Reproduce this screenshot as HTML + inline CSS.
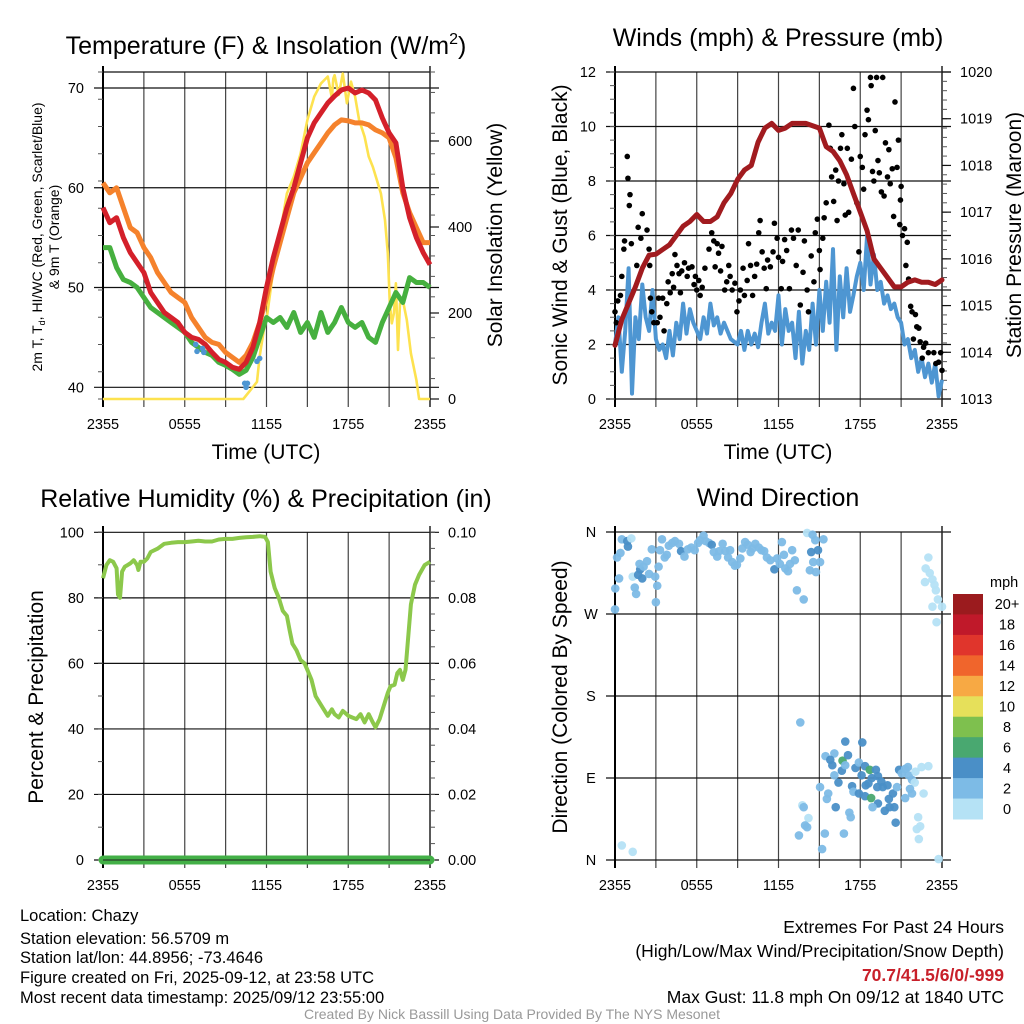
<!DOCTYPE html>
<html><head><meta charset="utf-8"><title>Chazy Mesonet</title>
<style>
html,body{margin:0;padding:0;background:#fff;}
svg{display:block;font-family:"Liberation Sans",Arial,sans-serif;}
</style></head>
<body>
<svg id="chart" width="1024" height="1024" viewBox="0 0 1024 1024" xmlns="http://www.w3.org/2000/svg">
<rect width="1024" height="1024" fill="#fff"/>
<g id="g1"></g>
<g id="g2"></g>
<g id="g3"></g>
<g id="g4"></g>
<g font-size="25" text-anchor="middle">
<text x="266" y="54">Temperature (F) &amp; Insolation (W/m<tspan dy="-10" font-size="16">2</tspan><tspan dy="10">)</tspan></text>
<text x="778" y="46">Winds (mph) &amp; Pressure (mb)</text>
<text x="266" y="507">Relative Humidity (%) &amp; Precipitation (in)</text>
<text x="778" y="506">Wind Direction</text>
</g>
<g font-size="21" text-anchor="middle">
<text x="266" y="459">Time (UTC)</text>
<text x="778" y="459">Time (UTC)</text>
<text transform="translate(502,235) rotate(-90)">Solar Insolation (Yellow)</text>
<text transform="translate(567,235) rotate(-90)">Sonic Wind &amp; Gust (Blue, Black)</text>
<text transform="translate(1021,235) rotate(-90)">Station Pressure (Maroon)</text>
<text transform="translate(43,697) rotate(-90)">Percent &amp; Precipitation</text>
<text transform="translate(567,697) rotate(-90)">Direction (Colored By Speed)</text>
</g>
<g font-size="14" text-anchor="middle">
<text transform="translate(42,237) rotate(-90)">2m T, T<tspan font-size="9" dy="3">d</tspan><tspan dy="-3">, HI/WC (Red, Green, Scarlet/Blue)</tspan></text>
<text transform="translate(59,237) rotate(-90)">&amp; 9m T (Orange)</text>
</g>
<g id="cbar"></g>
<g font-size="16.5">
<text x="20" y="921">Location: Chazy</text>
<text x="20" y="944">Station elevation: 56.5709 m</text>
<text x="20" y="963">Station lat/lon: 44.8956; -73.4646</text>
<text x="20" y="983">Figure created on Fri, 2025-09-12, at 23:58 UTC</text>
<text x="20" y="1003">Most recent data timestamp: 2025/09/12 23:55:00</text>
</g>
<g font-size="17.5" text-anchor="end">
<text x="1004" y="933">Extremes For Past 24 Hours</text>
<text x="1004" y="957">(High/Low/Max Wind/Precipitation/Snow Depth)</text>
<text x="1004" y="981" fill="#c8202a" font-weight="bold">70.7/41.5/6/0/-999</text>
<text x="1004" y="1003">Max Gust: 11.8 mph On 09/12 at 1840 UTC</text>
</g>
<text x="512" y="1019" font-size="14" fill="#999" text-anchor="middle">Created By Nick Bassill Using Data Provided By The NYS Mesonet</text>
</svg>
<script>
// ---------- data ----------
const xTickLabels = ["2355","0555","1155","1755","2355"];
const tempTicks = [40,50,60,70];
const solarTicks = [0,200,400,600];
const windTicks = [0,2,4,6,8,10,12];
const presTicks = [1013,1014,1015,1016,1017,1018,1019,1020];
const rhTicks = [0,20,40,60,80,100];
const precipTickLabels = ["0.00","0.02","0.04","0.06","0.08","0.10"];
const dirTickLabels = ["N","W","S","E","N"];
const cbarLabels = ["20+","18","16","14","12","10","8","6","4","2","0"];

const tHours = [0,0.5,1,1.5,2,2.5,3,3.5,4,4.5,5,5.5,6,6.5,7,7.5,8,8.5,9,9.5,10,10.5,11,11.5,12,12.5,13,13.5,14,14.5,15,15.5,16,16.5,17,17.5,18,18.5,19,19.5,20,20.5,21,21.5,22,22.5,23,23.5,24];
const temp9m = [60.5,59.5,60,58,56,55.5,54,53,51.5,50.5,49.5,49,48.5,47,46,45,44.5,44.3,43.5,43,42.5,43.2,44.5,46.5,49,52,54.5,57,59.5,61,62.5,63.5,64.5,65.5,66.3,66.8,66.7,66.5,66.5,66.3,65.8,65.5,65,63,59.5,57.5,56,54.5,54.5];
const temp2m = [58,56.5,57,55,53.5,52.5,51.5,49.5,48.5,47.5,47,46.5,45.5,45,44.8,44.3,43.5,42.8,42.5,42,41.8,42.5,44,46.5,50,53,55.5,58,60,62.5,65,66.5,67.5,68.5,69.2,69.8,70,69.5,69.8,69.5,68.8,67,65.5,64.5,60,57,55,53.5,52.3];
const dewpt = [54,54,52,50.8,50.5,50,49,48,47.5,47,46.5,46,45.5,44.5,44,43.5,43.2,42.5,42.2,41.8,41.3,41.7,43,45,47,46.5,47,46,47.5,45.5,46.5,45,47.5,45.5,46.5,48,46.5,46,46.5,45,44.5,46.5,48,49.5,48.5,51,50.5,50.5,50];
const wcHours = [6.8,6.9,7.3,7.4,10.4,10.5,10.6,11.3,11.5];
const wcTemps = [44.3,43.6,43.9,43.5,40.4,40,40.4,42.6,42.9];
const solarHours = [0,10.3,10.8,11.3,11.5,11.8,12,12.5,13,13.5,14,14.5,15,15.5,16,16.5,16.8,16.9,17,17.3,17.6,17.9,18.2,18.5,18.8,19.2,19.5,19.8,20.1,20.4,20.7,20.9,21.05,21.2,21.35,21.5,21.65,21.8,22,22.3,22.6,23,23.2,24];
const solar = [0,0,20,40,100,160,184,300,385,478,517,571,649,703,734,750,700,745,753,707,757,688,738,703,649,610,564,540,509,478,416,339,222,176,199,269,114,222,230,184,106,44,0,0];

const wHours = [0,0.25,0.5,0.75,1,1.25,1.5,1.75,2,2.25,2.5,2.75,3,3.25,3.5,3.75,4,4.25,4.5,4.75,5,5.25,5.5,5.75,6,6.25,6.5,6.75,7,7.25,7.5,7.75,8,8.5,9,9.25,9.5,9.75,10,10.25,10.5,10.75,11,11.25,11.5,11.75,12,12.25,12.5,12.75,13,13.25,13.5,13.75,14,14.25,14.5,14.75,15,15.25,15.5,15.75,16,16.25,16.5,16.75,17,17.25,17.5,17.75,18,18.25,18.5,18.75,19,19.25,19.5,19.75,20,20.25,20.5,20.75,21,21.25,21.5,21.75,22,22.25,22.5,22.75,23,23.25,23.5,23.75,24];
const wind = [2,3,1,2.5,4.8,0.2,3,2.2,4.2,3,2.5,4,2.2,1.8,2,1.5,2.5,1.6,2.8,2.2,3.5,2.4,3.3,2.8,2.5,2.2,3,2.4,3.5,2.7,3,2.4,2.8,2.2,2,2.5,1.8,2.5,2,2.4,1.9,2.8,3.5,2.4,2.8,2.5,3.8,2,3.3,2.5,2.8,1.5,3.2,1.3,2.5,1.8,3.5,2,4,2.5,4.3,2.8,5.5,1.8,4.5,3,4.8,3.2,3.8,4.5,5,4,6,4.2,5.3,4,4.3,3.5,3.8,3.3,3.5,3,2.8,2,2.2,1.5,1.8,1,1.5,0.8,1.3,0.6,1.3,0.1,0.7];
const pHours = [0,0.5,1,1.5,2,2.5,3,3.5,4,4.5,5,5.5,6,6.5,7,7.5,8,8.5,9,9.5,10,10.5,11,11.5,12,12.5,13,13.5,14,14.5,15,15.5,16,16.5,17,17.5,18,18.5,19,19.5,20,20.5,21,21.5,22,22.5,23,23.5,24];
const pressure = [1014.15,1014.7,1015.05,1015.4,1015.8,1016.08,1016.1,1016.2,1016.3,1016.5,1016.7,1016.8,1016.95,1016.8,1016.8,1016.9,1017.2,1017.4,1017.7,1017.9,1018.0,1018.5,1018.8,1018.9,1018.75,1018.8,1018.9,1018.9,1018.9,1018.85,1018.8,1018.4,1018.3,1018.1,1017.8,1017.4,1017.0,1016.6,1016.0,1015.8,1015.6,1015.4,1015.4,1015.5,1015.55,1015.5,1015.5,1015.45,1015.55];
const gustHours = [0,0.1,0.2,0.4,0.5,0.65,0.7,0.9,0.95,1.05,1.1,1.2,1.6,1.7,1.9,2.0,2.35,2.5,2.55,2.6,2.7,2.85,3.1,3.2,3.3,3.5,3.6,3.8,3.9,4.05,4.2,4.3,4.4,4.55,4.7,4.8,4.9,5.1,5.3,5.4,5.65,5.8,5.9,6.0,6.15,6.25,6.4,6.6,6.9,7.1,7.25,7.35,7.5,7.6,7.75,7.85,8.05,8.2,8.35,8.45,8.6,8.8,8.95,9.1,9.2,9.4,9.5,9.7,9.8,9.95,10.1,10.25,10.4,10.55,10.65,10.8,10.95,11.1,11.2,11.4,11.6,11.7,11.9,12.0,12.2,12.3,12.45,12.6,12.8,12.95,13.1,13.3,13.45,13.6,13.8,13.9,14.1,14.2,14.4,14.6,14.7,14.85,15.0,15.05,15.25,15.35,15.5,15.7,15.8,15.9,16.05,16.2,16.3,16.4,16.55,16.65,16.8,16.9,17.05,17.15,17.35,17.5,17.6,17.75,17.9,18.0,18.15,18.25,18.35,18.5,18.6,18.75,18.8,18.9,19.0,19.1,19.2,19.3,19.4,19.55,19.65,19.75,19.85,20.0,20.1,20.2,20.35,20.45,20.55,20.7,20.8,20.9,20.95,21.0,21.1,21.25,21.35,21.45,21.55,21.7,21.8,21.9,22.05,22.15,22.3,22.4,22.55,22.65,22.8,23.0,23.4,23.55,23.75,23.9,24];
const gust = [3.2,2.8,3.6,3.8,4.5,5.5,5.8,8.9,8.1,7.1,7.5,5.7,4.9,6.3,5.9,6.8,6.2,5.5,4.9,3.7,3.2,2.8,2.8,3.7,3.0,3.7,2.5,3.5,4.3,3.9,4.6,4.1,5.3,4.9,4.6,3.9,4.7,5.0,4.5,4.8,4.85,4.2,4.5,4.0,4.35,3.8,4.1,4.8,5.5,6.1,5.8,4.85,5.7,5.35,4.7,5.6,4.0,4.3,4.9,4.5,4.0,4.25,3.2,3.6,4.0,4.8,3.8,4.35,5.7,4.9,3.8,4.5,4.95,6.1,6.55,5.4,4.8,4.05,5.1,4.85,5.4,6.45,5.9,5.2,4.05,5.05,5.85,5.45,4.05,6.2,5.9,4.9,6.2,3.45,4.65,5.8,4.0,3.2,5.25,4.3,6.1,6.6,5.45,4.75,5.9,6.65,7.2,10.05,9.2,8.15,7.25,8.4,6.55,8.0,9.2,9.7,7.9,6.75,9.2,6.85,8.8,11.4,10.0,7.2,5.4,8.9,8.5,7.7,9.7,10.6,10.25,11.8,11.5,8.35,8.0,9.85,11.8,8.75,8.3,7.6,11.8,7.45,9.4,8.15,9.15,7.9,8.45,6.7,10.9,8.5,9.5,6.4,7.3,7.8,6.0,6.25,4.9,5.75,4.4,3.4,3.2,2.2,3.1,2.65,2.6,2.1,1.5,1.9,2.05,1.7,1.7,1.3,1.35,1.7,1.05];

const rhHours = [0,0.25,0.5,0.75,1,1.1,1.25,1.4,1.6,2,2.25,2.5,2.6,2.75,3,3.25,3.5,4,4.5,5,5.5,6,6.5,7,7.5,8,8.5,9,9.5,10,10.5,11,11.5,11.9,12.1,12.3,12.6,12.9,13.2,13.5,13.7,13.9,14.2,14.5,14.8,15,15.3,15.6,15.9,16.2,16.5,16.8,17,17.3,17.6,18,18.3,18.6,18.9,19.2,19.5,19.8,20,20.3,20.6,20.9,21.1,21.4,21.6,21.8,22,22.2,22.4,22.6,22.9,23.2,23.6,24];
const rh = [86,90,91.5,91,89,81,80,88,89.5,90.5,91.5,90,88.5,91,91,92,94,95,96.5,96.8,97,97,97.2,97.4,97.2,97.2,97.8,98,98,98.3,98.5,98.6,98.8,98.6,97,88,83,80,76,74.5,70,66,64,61,60,58,55,50,48,46,44,46,44.5,43.5,45.5,44,43.5,43,44.5,42,44.5,42,40.5,43,47,51,53,53.5,57,58,55,58,68,78,84,87,90,91];
const precipHours = [0,24];
const precip = [0,0];

const dirHours = [0,0.02,0.15,0.3,0.4,0.5,0.9,0.95,1.2,1.3,1.45,1.55,1.7,1.85,2.0,1.8,2.1,2.35,2.5,2.7,2.95,3.0,3.1,3.2,3.3,3.45,3.65,3.8,3.95,4.2,4.4,4.7,4.85,5.1,5.35,5.6,5.85,6.1,6.25,6.5,6.65,6.9,7.1,7.25,7.5,7.65,7.9,8.1,8.3,8.45,8.6,8.8,8.95,9.2,9.35,9.55,9.75,9.95,10.1,10.3,10.55,10.75,10.95,11.15,11.4,11.7,11.9,12.25,12.1,12.4,12.5,12.7,12.85,13.0,13.2,13.35,13.85,14.1,14.3,14.4,14.5,14.55,14.7,14.75,14.9,15.05,15.3,22.75,23.0,22.8,23.1,23.3,23.45,23.55,23.7,23.3,24,23.6,13.6,16.9,18.15,16.1,15.45,15.8,16.7,17.1,15.95,16.65,16.1,16.4,16.9,17.65,17.9,18.1,18.35,18.7,19.15,18.6,18.4,18.85,19.3,19.55,19.65,20.0,19.25,17.4,17.5,17.9,18.35,18.8,19.3,18.9,19.8,20.15,20.5,20.1,20.4,20.7,20.85,21.05,21.3,21.5,21.55,21.8,22.0,22.05,22.5,23.0,21.65,21.8,21.3,22.65,22.25,22.4,22.15,22.3,20.6,16.2,17.2,17.3,15.55,15.65,15.05,13.75,13.85,14.2,13.95,14.1,13.5,15.4,16.8,15.2,0.5,1.3,23.75];
const dirDeg = [275,298,332,309,337,352,350,344,353,311,299,292,313,319,309,325,322,328,314,341,311,283,301,322,340,352,332,335,345,348,350,347,339,333,341,343,340,348,351,356,350,348,346,338,333,339,347,339,332,340,327,323,324,331,342,349,346,338,342,347,343,340,339,332,329,319,331,349,325,335,320,317,325,340,329,296,286,359,318,338,357,327,351,316,340,327,352,305,332,320,315,308,302,296,286,278,278,261,151,130,129,117,114,110,109,115,104,98,93,85,104,101,107,93,103,99,99,84,82,90,92,86,80,82,80,81,75,73,70,68,62,58,54,58,58,67,73,80,99,95,100,102,93,88,85,97,102,103,78,73,68,73,47,37,34,23,41,58,52,47,67,73,80,60,58,46,38,36,27,29,29,12,16,9,1];
const dirSpeed = [2.5,2.5,2.5,2.5,2.5,2.5,4.5,4.5,1.5,1.5,2.5,2.5,4.5,4.5,4.5,2.5,2.5,2.5,2.5,2.5,2.5,2.5,2.5,2.5,2.5,2.5,2.5,2.5,2.5,2.5,2.5,2.5,4.5,2.5,2.5,2.5,2.5,2.5,2.5,2.5,2.5,2.5,4.5,2.5,2.5,2.5,2.5,2.5,2.5,2.5,2.5,2.5,2.5,2.5,2.5,2.5,2.5,2.5,2.5,2.5,2.5,2.5,2.5,2.5,2.5,4.5,2.5,2.5,2.5,2.5,2.5,2.5,2.5,2.5,2.5,2.5,2.5,1.5,2.5,4.5,2.5,2.5,2.5,2.5,4.5,2.5,2.5,1,1,1,1,1,1,1,1,1,1,1,2.5,4.5,4.5,2.5,2.5,4.5,6.5,4.5,4.5,4.5,2.5,4.5,2.5,4.5,2.5,4.5,4.5,6.5,4.5,4.5,4.5,4.5,4.5,4.5,4.5,4.5,4.5,4.5,2.5,4.5,4.5,6.5,4.5,2.5,4.5,4.5,4.5,4.5,4.5,2.5,4.5,2.5,2.5,2.5,2.5,2.5,1.5,1.5,1.5,1.5,2.5,2.5,2.5,1.5,1.5,1.5,1.5,1.5,4.5,4.5,2.5,2.5,2.5,2.5,2.5,1.5,2.5,1.5,2.5,2.5,2.5,2.5,2.5,2.5,1,1,1];

// ---------- helpers ----------
const NS = "http://www.w3.org/2000/svg";
function mk(parent, tag, attrs, text){
  const e = document.createElementNS(NS, tag);
  for (const k in attrs) e.setAttribute(k, attrs[k]);
  if (text !== undefined) e.textContent = text;
  parent.appendChild(e);
  return e;
}
function lin(d0,d1,r0,r1){ return v => r0 + (v-d0)/(d1-d0)*(r1-r0); }
function pathFrom(xs, ys, sx, sy){
  return xs.map((h,i)=>(i?"L":"M")+sx(h).toFixed(1)+","+sy(ys[i]).toFixed(1)).join(" ");
}
function frame(g, L, R, T, B, hLines, sy, topBorder){
  const sx = lin(0,24,L,R);
  for (let h=3; h<24; h+=3){
    const gl = mk(g,"line",{x1:sx(h),x2:sx(h),y1:T,y2:B+8,stroke:"#444","stroke-width":1.2});
    
    
  }
  hLines.forEach(v=>{
    const hl = mk(g,"line",{x1:L-9,x2:R+9,y1:sy(v),y2:sy(v),stroke:"#111","stroke-width":1.2});
    
    
  });
  if (topBorder){ mk(g,"line",{x1:L,x2:R,y1:T,y2:T,stroke:"#111","stroke-width":1.2}); }
  const la = mk(g,"line",{x1:L,x2:L,y1:T-6,y2:B+8,stroke:"#000","stroke-width":2});
  
  
  const ra = mk(g,"line",{x1:R,x2:R,y1:T-6,y2:B+8,stroke:"#222","stroke-width":1.5});
  
  
  xTickLabels.forEach((lab,i)=>{
    const t = mk(g,"text",{x:sx(i*6),y:B+30,"font-size":14.5,"text-anchor":"middle"},lab);
    
    
  });
  return sx;
}
function minorTicks(g, X, y0, y1, n, dir){
  for (let i=0;i<=n;i++){
    const y = y0 + (y1-y0)*i/n;
    mk(g,"line",{x1:X,x2:X+dir*5,y1:y,y2:y,stroke:"#555","stroke-width":1});
  }
}

// ---------- panel 1 ----------
(function(){
  const g = document.getElementById("g1");
  const L=103,R=430,T=72,B=399;
  const sy = lin(40,70,387.3,88);
  const sSol = lin(0,600,399,141);
  const sx = frame(g,L,R,T,B,[40,50,60,70],sy,true);
  minorTicks(g,L,B,T,12,-1);
  minorTicks(g,R,B,T,16,1);
  tempTicks.forEach(v=>{
    const t = mk(g,"text",{x:84,y:sy(v)+5,"font-size":14.5,"text-anchor":"end"},v);
    
    
  });
  solarTicks.forEach(v=>{
    mk(g,"line",{x1:R,x2:R+9,y1:sSol(v),y2:sSol(v),stroke:"#111","stroke-width":1.2});
    const t = mk(g,"text",{x:448,y:sSol(v)+5,"font-size":14.5},v);
    
    
  });
  const sol = mk(g,"path",{d:pathFrom(solarHours,solar,sx,sSol),fill:"none",stroke:"#fde24f","stroke-width":2.6,"stroke-linejoin":"round"});
  
  
  const gr = mk(g,"path",{d:pathFrom(tHours,dewpt,sx,sy),fill:"none",stroke:"#46b03f","stroke-width":5,"stroke-linejoin":"round"});
  
  
  const or = mk(g,"path",{d:pathFrom(tHours,temp9m,sx,sy),fill:"none",stroke:"#f5822c","stroke-width":5,"stroke-linejoin":"round"});
  
  
  const rd = mk(g,"path",{d:pathFrom(tHours,temp2m,sx,sy),fill:"none",stroke:"#d4202a","stroke-width":5,"stroke-linejoin":"round"});
  
  
  wcHours.forEach((h,i)=>{
    const c = mk(g,"circle",{cx:sx(h),cy:sy(wcTemps[i]),r:2.8,fill:"#4e96d2"});
    
    
  });
})();

// ---------- panel 2 ----------
(function(){
  const g = document.getElementById("g2");
  const L=615,R=942,T=72,B=399;
  const sy = lin(0,12,399,72);
  const sp = lin(1013,1020,399,72);
  const sx = frame(g,L,R,T,B,[0,2,4,6,8,10,12],sy,false);
  minorTicks(g,L,B,T,24,-1);
  minorTicks(g,R,B,T,35,1);
  windTicks.forEach(v=>{
    const t = mk(g,"text",{x:596,y:sy(v)+5,"font-size":14.5,"text-anchor":"end"},v);
    
    
  });
  presTicks.forEach(v=>{
    mk(g,"line",{x1:R,x2:R+9,y1:sp(v),y2:sp(v),stroke:"#111","stroke-width":1.2});
    const t = mk(g,"text",{x:960,y:sp(v)+5,"font-size":14.5},v);
    
    
  });
  const wl = mk(g,"path",{d:pathFrom(wHours,wind,sx,sy),fill:"none",stroke:"#4e96d2","stroke-width":4,"stroke-linejoin":"round"});
  
  
  gustHours.forEach((h,i)=>{
    const c = mk(g,"circle",{cx:sx(h),cy:sy(gust[i]),r:2.8,fill:"#000"});
    
    
  });
  const pl = mk(g,"path",{d:pathFrom(pHours,pressure,sx,sp),fill:"none",stroke:"#a11b1f","stroke-width":5,"stroke-linejoin":"round","stroke-linecap":"round"});
  
  
})();

// ---------- panel 3 ----------
(function(){
  const g = document.getElementById("g3");
  const L=103,R=430,T=532,B=860;
  const sy = lin(0,100,860,532.3);
  const sx = frame(g,L,R,T,B,[0,20,40,60,80,100],sy,false);
  minorTicks(g,L,B,T,10,-1);
  minorTicks(g,R,B,T,20,1);
  rhTicks.forEach((v,i)=>{
    const t = mk(g,"text",{x:84,y:sy(v)+5,"font-size":14.5,"text-anchor":"end"},v);
    
    
    const t2 = mk(g,"text",{x:448,y:sy(v)+5,"font-size":14.5},precipTickLabels[i]);
    
    
  });
  const sPr = lin(0,0.1,860,532.3);
  const pr = mk(g,"path",{d:pathFrom(precipHours,precip,sx,sPr),fill:"none",stroke:"#43b047","stroke-width":9,"stroke-linecap":"round"});
  
  
  mk(g,"line",{x1:L,x2:R,y1:860,y2:860,stroke:"#222","stroke-width":1});
  const rl = mk(g,"path",{d:pathFrom(rhHours,rh,sx,sy),fill:"none",stroke:"#8cc84b","stroke-width":4,"stroke-linejoin":"round"});
  
  
})();

// ---------- panel 4 ----------
const cbarColors = ["#9b1b1e","#c0192a","#e0352c","#f0652c","#f7a944","#e6e05a","#7ec04e","#49a870","#4a8fc7","#7dbbe6","#b5e2f5"];
(function(){
  const g = document.getElementById("g4");
  const L=615,R=942,T=532,B=860;
  const sy = lin(0,360,860,532);
  const sx = frame(g,L,R,T,B,[0,90,180,270,360],sy,false);
  dirTickLabels.forEach((lab,i)=>{
    const t = mk(g,"text",{x:591,y:sy(360-i*90)+5,"font-size":14.5,"text-anchor":"middle"},lab);
    
    
  });
  function col(s){ const k = Math.min(10, Math.floor(s/2)); return cbarColors[10-k]; }
  dirHours.forEach((h,i)=>{
    const c = mk(g,"circle",{cx:sx(h),cy:sy(dirDeg[i]),r:4.3,fill:col(dirSpeed[i]),"fill-opacity":0.95});
    
    
  });
  const cb = document.getElementById("cbar");
  const t = mk(cb,"text",{x:990,y:587,"font-size":14.5},"mph");
  
  
  const bh = 225/11;
  cbarColors.forEach((c,i)=>{
    const r = mk(cb,"rect",{x:953,y:594+i*bh,width:30,height:bh+0.5,fill:c});
    
    
    const l = mk(cb,"text",{x:1007,y:594+i*bh+bh/2+5,"font-size":14.5,"text-anchor":"middle"},cbarLabels[i]);
    
    
  });
})();
</script>
</body></html>
